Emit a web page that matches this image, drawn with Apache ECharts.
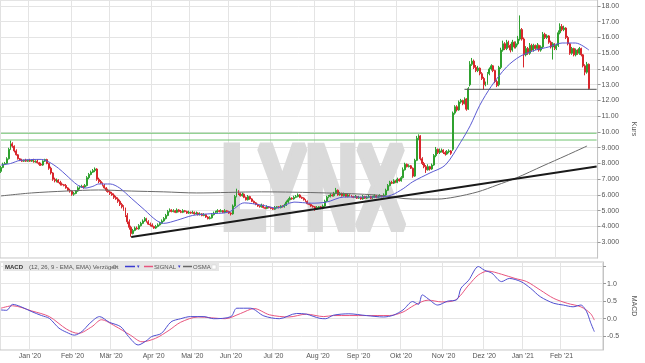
<!DOCTYPE html>
<html><head><meta charset="utf-8">
<script src="https://cdn.jsdelivr.net/npm/echarts@6/dist/echarts.min.js"></script>
<style>html,body{margin:0;padding:0;background:#fff}#c{width:645px;height:363px}</style>
</head><body><div id="c"></div>
<script>
// ---- categories (trading-day index) and month labels ----
const nCats = 312;
const monthStarts = [15,37,57,79,99,119,141,164,185,207,229,250,270,290];
const monthLabels = ["Jan '20","Feb '20","Mär '20","Apr '20","Mai '20","Jun '20","Jul '20","Aug '20","Sep '20","Okt '20","Nov '20","Dez '20","Jan '21","Feb '21"];

// ---- daily candles (Dec 2019 .. Feb 2021) ----
const opens = [
7.5,7.75,7.95,8.0,8.3,8.9,9.25,9.1,8.8,8.55,8.3,8.2,8.15,8.2,8.15,
8.2,8.15,8.2,8.1,8.15,8.05,7.95,7.9,8.15,8.25,8.0,7.7,7.4,7.0,6.9,6.95,6.8,6.7,6.65,6.6,6.45,6.3,
6.25,6.05,6.1,6.25,6.45,6.5,6.55,6.5,6.6,7.1,7.3,7.45,7.55,7.65,7.0,6.85,6.75,6.6,6.45,6.3,
6.2,6.1,6.0,5.85,5.75,5.6,5.4,5.25,5.1,4.7,4.3,3.95,3.55,3.75,3.9,3.85,4.05,4.2,4.35,4.5,4.3,4.15,
4.1,4.0,3.9,4.0,4.1,4.2,4.35,4.5,4.7,4.95,5.05,4.95,5.0,4.9,5.05,4.95,4.9,5.0,4.95,4.85,
4.9,4.85,4.9,4.8,4.85,4.75,4.8,4.7,4.75,4.6,4.5,4.55,4.75,4.85,4.9,5.0,4.95,5.0,4.9,5.0,
4.95,4.85,4.8,5.3,5.9,6.2,6.1,5.95,6.05,5.85,5.7,5.9,5.75,5.6,5.5,5.4,5.3,5.25,5.35,5.2,5.15,5.25,
5.2,5.15,5.1,5.2,5.25,5.2,5.3,5.25,5.35,5.55,5.7,5.8,5.75,5.85,5.9,6.0,5.85,5.8,5.7,5.6,5.45,5.4,5.3,
5.25,5.1,5.2,5.25,5.15,5.3,5.6,5.85,5.9,6.0,5.95,6.1,6.3,6.0,6.1,5.95,6.05,5.9,6.0,5.95,5.9,
5.85,5.9,5.8,5.85,5.75,5.9,5.8,5.85,5.9,5.8,5.85,5.95,5.85,5.9,5.95,5.9,6.0,6.3,6.6,6.8,6.75,6.9,
6.8,7.0,6.9,7.1,7.6,7.95,7.8,7.85,7.7,7.2,8.2,9.6,9.75,8.3,8.0,7.8,7.6,7.8,7.65,7.9,8.5,8.9,
8.7,8.8,8.85,8.7,8.6,8.75,8.8,8.9,11.2,11.6,11.4,11.9,12.0,11.8,12.1,11.45,13.0,14.3,14.5,14.1,13.9,
14.05,13.7,13.4,13.0,13.1,13.7,14.0,14.2,13.9,13.2,13.0,14.1,15.2,15.6,15.3,15.7,15.5,15.2,15.7,15.4,
15.6,15.9,16.5,15.9,14.9,15.3,15.0,15.5,15.2,15.5,15.3,15.5,15.2,15.4,16.2,16.0,16.1,15.7,15.4,15.6,
15.3,15.5,16.3,16.7,16.5,16.6,16.0,15.6,15.0,15.3,14.9,15.2,15.0,15.3,14.9,14.2,13.8,14.3];
const closes = [
7.75,7.95,8.0,8.3,8.9,9.25,9.1,8.8,8.55,8.3,8.2,8.15,8.2,8.15,8.2,
8.15,8.2,8.1,8.15,8.05,7.95,7.9,8.15,8.25,8.0,7.7,7.4,7.0,6.9,6.95,6.8,6.7,6.65,6.6,6.45,6.3,6.25,
6.05,6.1,6.25,6.45,6.5,6.55,6.5,6.6,7.1,7.3,7.45,7.55,7.65,7.0,6.85,6.75,6.6,6.45,6.3,6.2,
6.1,6.0,5.85,5.75,5.6,5.4,5.25,5.1,4.7,4.3,3.95,3.55,3.75,3.9,3.85,4.05,4.2,4.35,4.5,4.3,4.15,4.1,
4.0,3.9,4.0,4.1,4.2,4.35,4.5,4.7,4.95,5.05,4.95,5.0,4.9,5.05,4.95,4.9,5.0,4.95,4.85,4.9,
4.85,4.9,4.8,4.85,4.75,4.8,4.7,4.75,4.6,4.5,4.55,4.75,4.85,4.9,5.0,4.95,5.0,4.9,5.0,4.95,
4.85,4.8,5.3,5.9,6.2,6.1,5.95,6.05,5.85,5.7,5.9,5.75,5.6,5.5,5.4,5.3,5.25,5.35,5.2,5.15,5.25,5.2,
5.15,5.1,5.2,5.25,5.2,5.3,5.25,5.35,5.55,5.7,5.8,5.75,5.85,5.9,6.0,5.85,5.8,5.7,5.6,5.45,5.4,5.3,5.25,
5.1,5.2,5.25,5.15,5.3,5.6,5.85,5.9,6.0,5.95,6.1,6.3,6.0,6.1,5.95,6.05,5.9,6.0,5.95,5.9,5.85,
5.9,5.8,5.85,5.75,5.9,5.8,5.85,5.9,5.8,5.85,5.95,5.85,5.9,5.95,5.9,6.0,6.3,6.6,6.8,6.75,6.9,6.8,
7.0,6.9,7.1,7.6,7.95,7.8,7.85,7.7,7.2,8.2,9.6,9.75,8.3,8.0,7.8,7.6,7.8,7.65,7.9,8.5,8.9,8.7,
8.8,8.85,8.7,8.6,8.75,8.8,8.65,11.2,11.6,11.4,11.9,12.0,11.8,12.1,11.45,12.75,14.3,14.5,14.1,13.9,14.05,
13.7,13.4,13.0,13.1,13.7,14.0,14.2,13.9,13.2,12.95,14.1,15.2,15.6,15.3,15.7,15.5,15.2,15.7,15.4,15.6,
15.9,16.5,15.9,14.9,15.3,15.0,15.5,15.2,15.5,15.3,15.5,15.2,15.4,16.2,16.0,16.1,15.7,15.4,15.6,15.3,
15.5,16.3,16.7,16.5,16.6,16.0,15.6,15.0,15.3,14.9,15.2,15.0,15.3,14.9,14.2,13.8,14.3,12.75];
const lows = [
7.4,7.7,7.9,7.95,8.25,8.85,9.0,8.7,8.5,8.25,8.15,8.1,8.1,8.1,8.1,
8.1,8.1,8.05,8.05,8.0,7.85,7.85,7.85,8.1,7.95,7.6,7.3,6.9,6.8,6.8,6.75,6.6,6.6,6.55,6.4,6.25,6.15,
5.95,5.95,6.05,6.2,6.35,6.45,6.4,6.45,6.55,7.0,7.25,7.4,7.45,6.9,6.75,6.7,6.55,6.4,6.2,6.15,
6.0,5.95,5.75,5.7,5.5,5.3,5.15,5.0,4.6,4.15,3.8,3.35,3.5,3.7,3.8,3.8,4.0,4.15,4.3,4.25,4.1,4.0,
3.95,3.85,3.85,3.95,4.05,4.15,4.3,4.45,4.65,4.9,4.9,4.9,4.85,4.85,4.9,4.85,4.85,4.9,4.8,4.8,
4.8,4.8,4.75,4.75,4.7,4.7,4.65,4.65,4.55,4.45,4.45,4.5,4.7,4.8,4.85,4.9,4.9,4.85,4.85,4.9,
4.8,4.7,4.75,5.25,5.85,6.0,5.9,5.9,5.8,5.65,5.65,5.7,5.55,5.45,5.35,5.25,5.2,5.2,5.15,5.1,5.1,5.15,
5.1,5.05,5.05,5.15,5.15,5.15,5.2,5.2,5.3,5.5,5.65,5.7,5.7,5.8,5.85,5.8,5.75,5.65,5.55,5.4,5.35,5.25,5.2,
5.0,5.05,5.15,5.1,5.1,5.25,5.55,5.8,5.85,5.9,5.9,6.05,5.95,5.95,5.9,5.9,5.85,5.85,5.9,5.85,5.8,
5.8,5.75,5.75,5.7,5.7,5.75,5.75,5.8,5.75,5.75,5.8,5.8,5.8,5.85,5.85,5.85,5.95,6.25,6.55,6.7,6.7,6.75,
6.75,6.85,6.85,7.05,7.55,7.75,7.75,7.65,7.1,7.15,8.15,9.5,8.2,7.9,7.7,7.4,7.55,7.55,7.6,7.85,8.4,8.6,
8.6,8.7,8.6,8.5,8.55,8.65,8.55,8.8,11.1,11.3,11.35,11.8,11.7,11.75,11.35,11.4,12.9,14.2,14.0,13.8,13.8,
13.6,13.3,12.7,12.9,13.0,13.6,13.9,13.8,13.1,12.85,12.9,14.0,15.1,15.2,15.2,15.35,15.05,15.1,15.3,15.3,
15.5,15.8,15.8,14.1,14.8,14.9,14.9,15.1,15.1,15.2,15.2,15.1,15.1,15.3,15.9,15.9,15.6,15.3,14.6,15.2,
15.2,15.4,16.2,16.4,16.4,15.9,15.5,14.9,14.9,14.8,14.8,14.9,14.9,14.8,14.1,13.6,13.7,12.7];
const highs = [
7.85,8.05,8.1,8.4,9.0,9.45,9.35,9.15,8.9,8.6,8.35,8.3,8.25,8.3,8.25,
8.3,8.25,8.3,8.2,8.25,8.1,8.05,8.2,8.3,8.3,8.05,7.8,7.45,7.1,7.05,7.0,6.9,6.8,6.7,6.7,6.5,6.4,
6.3,6.2,6.3,6.55,6.6,6.65,6.6,6.7,7.2,7.4,7.55,7.65,7.75,7.7,7.1,6.95,6.8,6.7,6.5,6.4,
6.3,6.2,6.1,5.95,5.85,5.7,5.5,5.35,5.2,4.85,4.45,4.05,3.85,4.0,4.0,4.15,4.3,4.45,4.6,4.55,4.4,4.25,
4.2,4.05,4.1,4.2,4.3,4.45,4.6,4.8,5.05,5.15,5.1,5.1,5.05,5.15,5.1,5.05,5.1,5.05,5.0,5.0,
4.95,5.0,4.95,4.95,4.9,4.9,4.85,4.85,4.8,4.65,4.65,4.85,4.95,5.0,5.1,5.05,5.1,5.05,5.1,5.05,
5.0,4.9,5.4,6.0,6.4,6.3,6.15,6.15,6.1,5.9,6.0,5.95,5.8,5.65,5.55,5.45,5.35,5.45,5.4,5.25,5.35,5.3,
5.25,5.2,5.3,5.3,5.3,5.35,5.35,5.45,5.65,5.8,5.9,5.85,5.95,6.0,6.1,6.05,5.9,5.85,5.75,5.65,5.5,5.45,5.35,
5.3,5.3,5.3,5.3,5.4,5.7,5.95,6.0,6.1,6.05,6.2,6.45,6.35,6.2,6.15,6.15,6.1,6.1,6.05,6.0,5.95,
6.0,5.95,5.95,5.9,6.0,5.95,5.95,6.0,5.95,5.95,6.05,6.0,6.0,6.05,6.0,6.1,6.4,6.7,6.9,6.9,7.0,6.95,
7.1,7.05,7.2,7.75,8.05,8.0,7.95,7.9,7.75,8.3,9.75,9.85,9.8,8.4,8.1,7.9,7.95,7.85,8.0,8.6,9.05,8.95,
8.95,8.95,8.9,8.8,8.85,8.9,8.85,11.3,11.7,11.7,12.0,12.1,12.05,12.2,12.15,12.85,14.5,14.7,14.6,14.25,14.2,
14.1,13.8,13.5,13.2,13.8,14.1,14.3,14.25,13.95,13.3,14.2,15.35,15.8,15.7,15.85,15.8,15.6,15.85,15.75,15.75,
16.1,17.4,16.6,16.0,15.45,15.4,15.65,15.6,15.6,15.55,15.65,15.55,15.5,16.35,16.3,16.2,16.15,15.8,15.7,15.65,
15.6,16.45,16.9,16.85,16.75,16.65,16.1,15.65,15.4,15.35,15.3,15.25,15.4,15.35,14.95,14.3,14.45,14.35];

// ---- indicator lines: [dayIndex, value] ----
const maShort = [[0,7.9],[5,8.0],[10,8.2],[21,8.26],[25,8.1],[30,7.7],[34,7.27],[40,6.63],[44,6.44],[48,6.55],[51,6.7],[57,6.7],[62,6.44],[68,5.8],[75,5.05],[81,4.4],[85,4.2],[92,4.4],[100,4.7],[108,4.8],[119,4.92],[127,5.5],[136,5.36],[144,5.17],[153,5.55],[162,5.48],[170,5.55],[179,5.87],[188,5.87],[198,5.87],[204,6.0],[210,6.4],[215,6.84],[224,7.4],[232,7.9],[240,9.35],[245,10.4],[250,11.7],[256,12.9],[264,14.13],[271,14.8],[279,15.2],[286,15.4],[293,15.65],[300,15.65],[307,15.2]];
const maLong = [[0,5.94],[16,6.13],[34,6.25],[51,6.32],[68,6.25],[85,6.2],[102,6.13],[136,6.2],[170,6.13],[196,6.0],[215,5.74],[228,5.74],[237,5.87],[249,6.2],[259,6.63],[269,7.08],[283,7.85],[295,8.5],[306,9.11]];
const trendLine = [[68,3.34],[311,7.81]];
const supportLine = [[242,12.71],[311,12.71]];
const greenUpper = [[0,9.92],[311,9.92]];
const greenLower = [[0,9.49],[311,9.49]];
const macdLine = [[0,0.25],[3,0.24],[6,0.41],[10,0.35],[16,0.2],[21,0.09],[25,0.01],[30,-0.27],[34,-0.39],[38,-0.47],[42,-0.36],[46,-0.13],[51,0.06],[56,-0.1],[62,-0.23],[66,-0.51],[71,-0.75],[75,-0.64],[78,-0.51],[83,-0.42],[88,-0.09],[93,0.0],[98,0.06],[105,0.06],[110,0.0],[119,0.06],[122,0.3],[129,0.3],[136,0.08],[144,0.0],[153,0.15],[158,0.13],[165,0.01],[168,0.0],[172,0.1],[180,0.14],[189,0.09],[198,0.05],[203,0.1],[208,0.25],[213,0.49],[216,0.41],[218,0.68],[221,0.57],[226,0.39],[231,0.5],[236,0.55],[238,0.87],[242,1.1],[247,1.49],[250,1.39],[254,1.3],[259,1.06],[263,1.15],[269,1.06],[274,0.87],[279,0.63],[286,0.44],[291,0.39],[296,0.34],[300,0.39],[303,0.2],[305,-0.1],[307,-0.37]];
const signalLine = [[0,0.3],[6,0.37],[16,0.22],[25,0.06],[34,-0.3],[40,-0.42],[47,-0.23],[52,-0.03],[59,-0.21],[67,-0.47],[73,-0.66],[80,-0.56],[87,-0.33],[93,-0.1],[102,0.05],[116,0.0],[124,0.15],[131,0.29],[139,0.11],[149,0.05],[158,0.13],[167,0.06],[172,0.09],[189,0.09],[201,0.09],[208,0.19],[214,0.39],[221,0.53],[228,0.48],[235,0.53],[242,0.96],[247,1.25],[252,1.36],[259,1.27],[266,1.15],[272,1.06],[279,0.82],[286,0.58],[293,0.44],[300,0.34],[305,0.15],[307,-0.04]];

// ---- build ----
const cats = [];
for (let i = 0; i < nCats; i++) cats.push(String(i));
const candleData = opens.map((o, i) => [o, closes[i], lows[i], highs[i]]);
const isMonth = (idx) => monthStarts.indexOf(idx) >= 0;
const FONT = '"Liberation Sans", Arial, sans-serif';
const GRID_C = '#e4e4e4';
const AX_C = '#c4c4c4';
const GREEN = '#72c472';

const chart = echarts.init(document.getElementById('c'), null, {renderer: 'canvas'});
chart.setOption({
  animation: false,
  backgroundColor: '#fff',
  textStyle: {fontFamily: FONT},
  grid: [
    {left: 0, right: 36, top: 0, height: 258, show: true, borderColor: AX_C, borderWidth: 1},
    {left: 0, right: 36, top: 262, height: 88, show: true, borderColor: AX_C, borderWidth: 1}
  ],
  xAxis: [
    {gridIndex: 0, type: 'category', data: cats, boundaryGap: true,
     axisLine: {show: false}, axisTick: {show: false}, axisLabel: {show: false},
     splitLine: {show: true, interval: (i) => isMonth(i), lineStyle: {color: GRID_C, width: 1}}},
    {gridIndex: 1, type: 'category', data: cats, boundaryGap: true,
     axisLine: {show: false}, axisTick: {show: false},
     axisLabel: {show: true, interval: (i) => isMonth(i), margin: 3, fontSize: 7, color: '#555', fontFamily: FONT,
       formatter: (v, i) => { const k = monthStarts.indexOf(Number(v)); return k >= 0 ? monthLabels[k] : ''; }},
     splitLine: {show: true, interval: (i) => isMonth(i), lineStyle: {color: GRID_C, width: 1}}}
  ],
  yAxis: [
    {gridIndex: 0, type: 'value', position: 'right', min: 2, max: 18.38, interval: 1,
     axisLine: {show: true, lineStyle: {color: AX_C}},
     axisTick: {show: true, length: 3, lineStyle: {color: '#999'}},
     axisLabel: {fontSize: 7, color: '#555', margin: 4, fontFamily: FONT, showMaxLabel: false, showMinLabel: false,
       formatter: (v) => (v < 2.5 || v > 18.2) ? '' : (v >= 10 ? v.toFixed(2) : v.toFixed(3))},
     splitLine: {show: true, lineStyle: {color: GRID_C, width: 1}},
     name: 'Kurs', nameLocation: 'middle', nameRotate: -90, nameGap: 27,
     nameTextStyle: {fontSize: 7, color: '#555', fontFamily: FONT}},
    {gridIndex: 1, type: 'value', position: 'right', min: -0.894, max: 1.62, splitNumber: 5,
     axisLine: {show: true, lineStyle: {color: AX_C}},
     axisTick: {show: true, length: 3, lineStyle: {color: '#999'}},
     axisLabel: {fontSize: 7, color: '#555', margin: 4, fontFamily: FONT, showMaxLabel: false, showMinLabel: false,
       formatter: (v) => { const r = Math.round(v * 2) / 2; if (Math.abs(r - v) > 0.01 || r > 1.2) return ''; return r.toFixed(1); }},
     splitLine: {show: true, lineStyle: {color: GRID_C, width: 1}},
     name: 'MACD', nameLocation: 'middle', nameRotate: -90, nameGap: 21,
     nameTextStyle: {fontSize: 7, color: '#555', fontFamily: FONT}}
  ],
  series: [
    {type: 'line', xAxisIndex: 0, yAxisIndex: 0, data: greenUpper, symbol: 'none', z: 3,
     lineStyle: {color: GREEN, width: 1}},
    {type: 'line', xAxisIndex: 0, yAxisIndex: 0, data: greenLower, symbol: 'none', z: 3,
     lineStyle: {color: GREEN, width: 1}},
    {type: 'candlestick', xAxisIndex: 0, yAxisIndex: 0, data: candleData, barWidth: 1.4, z: 4,
     itemStyle: {color: '#2fa12f', color0: '#d8262c', borderColor: '#2fa12f', borderColor0: '#d8262c', borderWidth: 1}},
    {type: 'line', xAxisIndex: 0, yAxisIndex: 0, data: maLong, smooth: 0.3, symbol: 'none', z: 5,
     lineStyle: {color: '#6a6a6a', width: 1}},
    {type: 'line', xAxisIndex: 0, yAxisIndex: 0, data: maShort, smooth: 0.3, symbol: 'none', z: 5,
     lineStyle: {color: '#5a5ad2', width: 1}},
    {type: 'line', xAxisIndex: 0, yAxisIndex: 0, data: trendLine, symbol: 'none', z: 5,
     lineStyle: {color: '#1a1a1a', width: 2}},
    {type: 'line', xAxisIndex: 0, yAxisIndex: 0, data: supportLine, symbol: 'none', z: 5,
     lineStyle: {color: '#505050', width: 1}},
    {type: 'line', xAxisIndex: 1, yAxisIndex: 1, data: signalLine, smooth: 0.3, symbol: 'none',
     lineStyle: {color: '#e8557e', width: 1}},
    {type: 'line', xAxisIndex: 1, yAxisIndex: 1, data: macdLine, smooth: 0.3, symbol: 'none',
     lineStyle: {color: '#4f4fd0', width: 1}}
  ],
  graphic: [
    {type: 'text', x: 222, y: 195, scaleX: 0.615, z: 1, silent: true,
     style: {text: 'LYNX', font: 'bold 115px ' + FONT, fill: '#dadada', stroke: '#dadada', lineWidth: 10, align: 'left', verticalAlign: 'middle'}},
    {type: 'rect', z: 100, shape: {x: 3, y: 262.5, width: 216, height: 8.5}, style: {fill: '#e6e6e6'}},
    {type: 'text', z: 101, x: 5, y: 267, style: {text: 'MACD', font: 'bold 6px ' + FONT, fill: '#333', verticalAlign: 'middle'}},
    {type: 'text', z: 101, x: 29, y: 267, style: {text: '(12, 26, 9 - EMA, EMA) Verzögert', font: '6px ' + FONT, fill: '#555', verticalAlign: 'middle'}},
    {type: 'text', z: 101, x: 112, y: 267, style: {text: '⚙', font: '6px ' + FONT, fill: '#777', verticalAlign: 'middle'}},
    {type: 'line', z: 101, shape: {x1: 125, y1: 266.5, x2: 135, y2: 266.5}, style: {stroke: '#3b3bd0', lineWidth: 1.5}},
    {type: 'text', z: 101, x: 137, y: 267, style: {text: '▾', font: '5px ' + FONT, fill: '#3b3bd0', verticalAlign: 'middle'}},
    {type: 'line', z: 101, shape: {x1: 144, y1: 266.5, x2: 153, y2: 266.5}, style: {stroke: '#e8557e', lineWidth: 1.5}},
    {type: 'text', z: 101, x: 154, y: 267, style: {text: 'SIGNAL', font: '6px ' + FONT, fill: '#555', verticalAlign: 'middle'}},
    {type: 'text', z: 101, x: 178, y: 267, style: {text: '▾', font: '5px ' + FONT, fill: '#3b3bd0', verticalAlign: 'middle'}},
    {type: 'line', z: 101, shape: {x1: 183, y1: 266.5, x2: 192, y2: 266.5}, style: {stroke: '#666', lineWidth: 1.5}},
    {type: 'text', z: 101, x: 193, y: 267, style: {text: 'OSMA', font: '6px ' + FONT, fill: '#555', verticalAlign: 'middle'}},
    {type: 'rect', z: 101, shape: {x: 212, y: 265, width: 4, height: 4}, style: {fill: '#fff', stroke: '#ccc', lineWidth: 0.5}}
  ]
});
</script></body></html>
